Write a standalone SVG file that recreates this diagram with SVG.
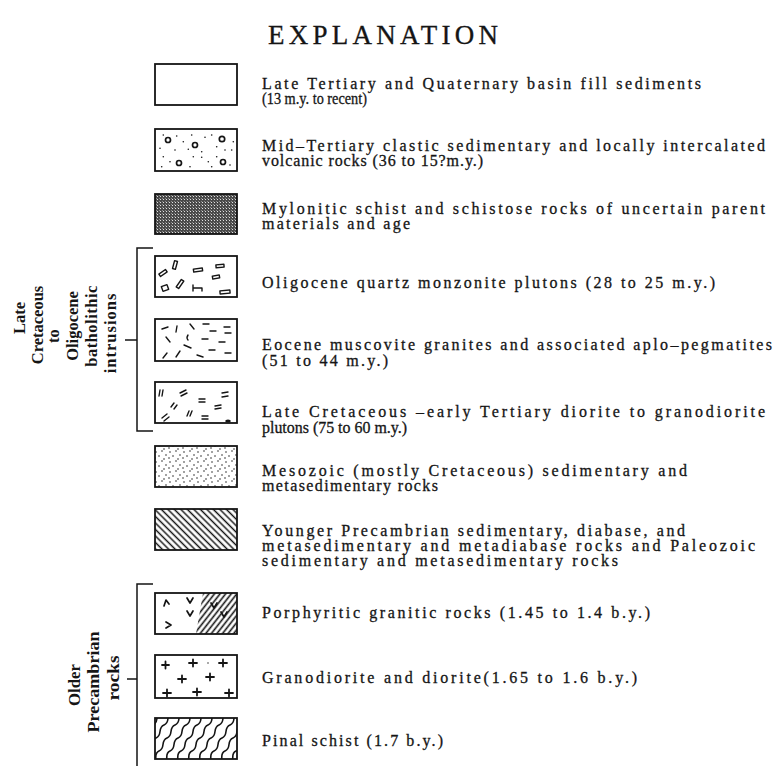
<svg xmlns="http://www.w3.org/2000/svg" width="779" height="767" viewBox="0 0 779 767">
<style>
.t{font-family:"Liberation Serif","Times New Roman",serif;font-size:16px;fill:#151515;stroke:#151515;stroke-width:0.3}
.lab{font-family:"Liberation Serif","Times New Roman",serif;font-size:16.5px;font-weight:bold;fill:#151515;text-anchor:middle}
.title{font-family:"Liberation Serif","Times New Roman",serif;font-size:27px;fill:#151515;stroke:#151515;stroke-width:0.3}
.box{fill:none;stroke:#151515;stroke-width:1.8}
.m{fill:none;stroke:#151515;stroke-width:1.4;stroke-linecap:round;stroke-linejoin:round}
.br{fill:none;stroke:#151515;stroke-width:1.5}
.dot{fill:#151515}
</style>
<defs>
<pattern id="mylo" patternUnits="userSpaceOnUse" width="3" height="3">
<rect width="3" height="3" fill="#4a4a4a"/>
<rect x="1" y="1" width="1" height="1" fill="#e0e0e0"/>
<rect x="0" y="0" width="1" height="1" fill="#8a8a8a"/>
</pattern>
<pattern id="stip" patternUnits="userSpaceOnUse" width="14" height="10">
<circle cx="2" cy="2" r="0.75" fill="#151515"/>
<circle cx="8" cy="1" r="0.75" fill="#151515"/>
<circle cx="12" cy="5" r="0.75" fill="#151515"/>
<circle cx="5" cy="6" r="0.75" fill="#151515"/>
<circle cx="10" cy="9" r="0.75" fill="#151515"/>
<circle cx="1" cy="8" r="0.75" fill="#151515"/>
</pattern>
<pattern id="hatchB" patternUnits="userSpaceOnUse" width="4.6" height="10" patternTransform="rotate(-45)">
<line x1="2.3" y1="0" x2="2.3" y2="10" stroke="#151515" stroke-width="1.5"/>
</pattern>
<pattern id="hatchF" patternUnits="userSpaceOnUse" width="4.4" height="10" patternTransform="rotate(38)">
<line x1="2.2" y1="0" x2="2.2" y2="10" stroke="#151515" stroke-width="1.6"/>
</pattern>
<clipPath id="c11"><rect x="155" y="718" width="82" height="41"/></clipPath>
<clipPath id="c9"><polygon points="203,593 237,593 237,634 196,634"/></clipPath>
<path id="wave" d="M0,0 c 9,-2 1,-10 8,-13 s 1,-10 8,-13 s 1,-10 8,-13 s 1,-10 8,-13" fill="none" stroke="#151515" stroke-width="1.6" stroke-linecap="round"/>
</defs>

<text class="title" x="268" y="44" textLength="230" lengthAdjust="spacing">EXPLANATION</text>

<g id="brackets">
<path class="br" d="M153,248 H137 V431 H153 M125,340 H137"/>
<path class="br" d="M153,584 H137 V766 M127,679 H137"/>
</g>

<g id="label-batholithic">
<text class="lab" transform="translate(25,318) rotate(-90)">Late</text>
<text class="lab" transform="translate(43,325) rotate(-90)">Cretaceous</text>
<text class="lab" transform="translate(59,336) rotate(-90)">to</text>
<text class="lab" transform="translate(78,326) rotate(-90)">Oligocene</text>
<text class="lab" transform="translate(97,326) rotate(-90)" style="letter-spacing:0.5px">batholithic</text>
<text class="lab" transform="translate(116,333) rotate(-90)" style="letter-spacing:1px">intrusions</text>
</g>
<g id="label-older">
<text class="lab" transform="translate(80,685) rotate(-90)" textLength="42" lengthAdjust="spacingAndGlyphs">Older</text>
<text class="lab" transform="translate(99,682) rotate(-90)" textLength="101" lengthAdjust="spacingAndGlyphs">Precambrian</text>
<text class="lab" transform="translate(119,678) rotate(-90)" textLength="45" lengthAdjust="spacingAndGlyphs">rocks</text>
</g>

<g id="basin-fill">
<rect class="box" x="155" y="64" width="82" height="41"/>
<text class="t" x="262" y="89" textLength="439" lengthAdjust="spacing">Late Tertiary and Quaternary basin fill sediments</text>
<text class="t" x="262" y="104" textLength="105" lengthAdjust="spacingAndGlyphs">(13 m.y. to recent)</text>
</g>

<g id="mid-tertiary">
<rect class="box" x="155" y="129" width="82" height="42"/>
<g class="dot">
<circle cx="163.3" cy="135" r="0.8"/><circle cx="176.7" cy="136" r="0.8"/><circle cx="183.3" cy="141.7" r="0.8"/><circle cx="191.7" cy="135" r="0.8"/><circle cx="205" cy="137.3" r="0.8"/><circle cx="211.7" cy="135" r="0.8"/><circle cx="233.3" cy="141.7" r="0.8"/><circle cx="160" cy="148.3" r="0.8"/><circle cx="175" cy="150" r="0.8"/><circle cx="188.3" cy="149.3" r="0.8"/><circle cx="201.7" cy="151.7" r="0.8"/><circle cx="216.7" cy="146.7" r="0.8"/><circle cx="225" cy="150" r="0.8"/><circle cx="231.7" cy="150" r="0.8"/><circle cx="163.3" cy="156.7" r="0.8"/><circle cx="170" cy="161.7" r="0.8"/><circle cx="193.3" cy="156.7" r="0.8"/><circle cx="201.7" cy="157.3" r="0.8"/><circle cx="208.3" cy="161.7" r="0.8"/><circle cx="216.7" cy="156.7" r="0.8"/><circle cx="161.7" cy="166.7" r="0.8"/><circle cx="190" cy="166.7" r="0.8"/><circle cx="211.7" cy="166.7" r="0.8"/><circle cx="230" cy="165" r="0.8"/>
</g>
<g class="m" style="stroke-width:1.7">
<circle cx="168" cy="140" r="2.5"/><circle cx="195" cy="145" r="2.5"/><circle cx="222" cy="139" r="2.7"/><circle cx="179" cy="163" r="2.5"/><circle cx="223" cy="162" r="2.5"/>
</g>
<text class="t" x="262" y="151" textLength="503" lengthAdjust="spacing">Mid–Tertiary clastic sedimentary and locally intercalated</text>
<text class="t" x="262" y="166" textLength="221" lengthAdjust="spacing">volcanic rocks (36 to 15?m.y.)</text>
</g>

<g id="mylonitic">
<rect x="155" y="194" width="82" height="40" fill="url(#mylo)"/>
<rect class="box" x="155" y="194" width="82" height="40"/>
<text class="t" x="262" y="214" textLength="503" lengthAdjust="spacing">Mylonitic schist and schistose rocks of uncertain parent</text>
<text class="t" x="262" y="229" textLength="148" lengthAdjust="spacing">materials and age</text>
</g>

<g id="oligocene">
<rect class="box" x="155" y="256" width="82" height="41"/>
<g class="m">
<rect x="-4" y="-1.5" width="8" height="3" transform="translate(163,273) rotate(-35)"/>
<rect x="-4" y="-1.5" width="8" height="3" transform="translate(175,265) rotate(-75)"/>
<rect x="-3" y="-2.5" width="6" height="5" transform="translate(165,288) rotate(-20)"/>
<rect x="-4.5" y="-1.5" width="9" height="3" transform="translate(180,284) rotate(-55)"/>
<rect x="-4.5" y="-1.5" width="9" height="3" transform="translate(198,270) rotate(-8)"/>
<path d="M193,285 V291 M193,288 H202 V291"/>
<rect x="-4" y="-1.5" width="8" height="3" transform="translate(220,266) rotate(-5)"/>
<rect x="-3.5" y="-1.5" width="7" height="3" transform="translate(216,277) rotate(-10)"/>
<rect x="-5" y="-1.5" width="10" height="3" transform="translate(225,292) rotate(-5)"/>
</g>
<text class="t" x="262" y="288" textLength="453" lengthAdjust="spacing">Oligocene quartz monzonite plutons (28 to 25 m.y.)</text>
</g>

<g id="eocene">
<rect class="box" x="155" y="319" width="82" height="42"/>
<path class="m" d="M162,329 L168,327 M177,326 L176,332 M190,324 L194,329 M203,324 H209 M210,331 H216 M224,327 H230 M166,337 L170,342 M188,335 Q186,338 188,340 M202,339 H208 M219,342 H225 M225,333 H231 M184,345 L191,348 M163,358 L167,353 M176,357 L180,351 M197,355 L203,357 M209,350 H215 M225,353 H231"/>
<text class="t" x="262" y="350" textLength="510" lengthAdjust="spacing">Eocene muscovite granites and associated aplo–pegmatites</text>
<text class="t" x="262" y="366" textLength="126" lengthAdjust="spacing">(51 to 44 m.y.)</text>
</g>

<g id="late-cretaceous">
<rect class="box" x="155" y="382" width="82" height="41"/>
<path class="m" d="M159,396 L160,390 M162,396 L163,390 M180,393 L186,390 M181,396 L187,393 M199,399 H205 M199,402 H205 M222,393 L228,392 M222,397 L228,396 M171,407 L174,403 M174,409 L177,405 M215,406 L221,405 M215,409 L221,408 M162,418 L167,414 M164,421 L169,417 M187,416 L189,411 M190,416 L192,411 M202,416 H208 M202,419 H208"/>
<ellipse cx="228" cy="421" rx="2.8" ry="1.6" fill="#151515"/>
<text class="t" x="262" y="417" textLength="503" lengthAdjust="spacing">Late Cretaceous –early Tertiary diorite to granodiorite</text>
<text class="t" x="262" y="433" textLength="145" lengthAdjust="spacingAndGlyphs">plutons (75 to 60 m.y.)</text>
</g>

<g id="mesozoic">
<rect x="155" y="446" width="82" height="41" fill="url(#stip)"/>
<rect class="box" x="155" y="446" width="82" height="41"/>
<text class="t" x="262" y="476" textLength="425" lengthAdjust="spacing">Mesozoic (mostly Cretaceous) sedimentary and</text>
<text class="t" x="262" y="491" textLength="176" lengthAdjust="spacing">metasedimentary rocks</text>
</g>

<g id="younger-precambrian">
<rect x="155" y="509" width="82" height="41" fill="url(#hatchB)"/>
<rect class="box" x="155" y="509" width="82" height="41"/>
<text class="t" x="262" y="536" textLength="423" lengthAdjust="spacing">Younger Precambrian sedimentary, diabase, and</text>
<text class="t" x="262" y="551" textLength="493" lengthAdjust="spacing">metasedimentary and metadiabase rocks and Paleozoic</text>
<text class="t" x="262" y="566" textLength="356" lengthAdjust="spacing">sedimentary and metasedimentary rocks</text>
</g>

<g id="porphyritic">
<rect x="155" y="593" width="82" height="41" fill="url(#hatchF)" clip-path="url(#c9)"/>
<rect class="box" x="155" y="593" width="82" height="41"/>
<path class="m" style="stroke-width:1.7" d="M164,606 L166,600 L169,604 M187,598 L190,603 L193,598 M166,622 L171,625 L166,628 M187,611 L190,616 L193,611 M211,603 L214,608 L217,603 M221,612 L224,617 L227,612"/>
<text class="t" x="262" y="618" textLength="388" lengthAdjust="spacing">Porphyritic granitic rocks (1.45 to 1.4 b.y.)</text>
</g>

<g id="granodiorite">
<rect class="box" x="155" y="655" width="82" height="43"/>
<path class="m" style="stroke-width:1.8" d="M162,665 H169 M165.5,661.5 V668.5 M189,663 H197 M193,659.5 V666.5 M219,663 H227 M223,659.5 V666.5 M178,679 H186 M182,675.5 V682.5 M206,677 H214 M210,673.5 V680.5 M163,693 H171 M167,689.5 V696.5 M193,692 H201 M197,688.5 V695.5 M225,693 H233 M229,689.5 V696.5"/>
<circle cx="208" cy="663" r="0.7" fill="#151515"/>
<text class="t" x="262" y="683" textLength="375" lengthAdjust="spacing">Granodiorite and diorite(1.65 to 1.6 b.y.)</text>
</g>

<g id="pinal-schist">
<g clip-path="url(#c11)">
<use href="#wave" x="118" y="764"/>
<use href="#wave" x="129" y="764"/>
<use href="#wave" x="140" y="764"/>
<use href="#wave" x="151" y="764"/>
<use href="#wave" x="162" y="764"/>
<use href="#wave" x="173" y="764"/>
<use href="#wave" x="184" y="764"/>
<use href="#wave" x="195" y="764"/>
<use href="#wave" x="206" y="764"/>
<use href="#wave" x="217" y="764"/>
<use href="#wave" x="228" y="764"/>
</g>
<rect class="box" x="155" y="718" width="82" height="41"/>
<text class="t" x="262" y="746" textLength="181" lengthAdjust="spacing">Pinal schist (1.7 b.y.)</text>
</g>
</svg>
